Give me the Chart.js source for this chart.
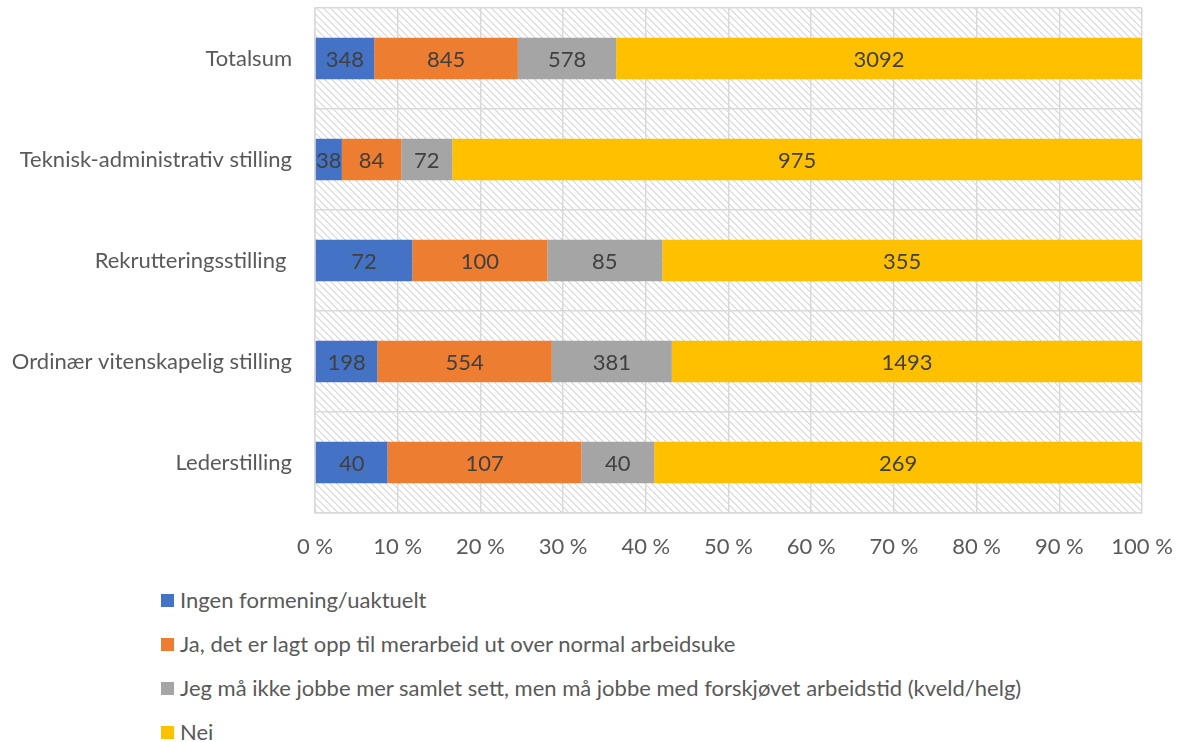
<!DOCTYPE html>
<html>
<head>
<meta charset="utf-8">
<script src="https://cdn.jsdelivr.net/npm/chart.js@4"></script>
<style>
  html, body { margin: 0; padding: 0; background: #fff; }
  #wrap { position: relative; width: 1178px; height: 742px; font-family: Lato, sans-serif; }
  #chartBox { position: absolute; left: 0; top: 0; width: 1178px; height: 580px; }
  #legend { position: absolute; left: 160px; top: 587px; color: #595959; font-size: 22px; line-height: 26px; }
  #legend .item { height: 44px; display: flex; align-items: flex-start; }
  #legend .box { flex: none; width: 13px; height: 13px; margin: 7px 6px 0 1px; }
</style>
</head>
<body>
<div id="wrap">
  <div id="chartBox"><canvas id="chart"></canvas></div>
  <div id="legend"></div>
</div>
<script>
    // Categories and answer counts per category
    const categories = [
        'Totalsum',
        'Teknisk-administrativ stilling',
        'Rekrutteringsstilling ',
        'Ordinær vitenskapelig stilling',
        'Lederstilling'
    ];
    const ingenFormening = [348, 38, 72, 198, 40];
    const jaMerarbeid = [845, 84, 100, 554, 107];
    const forskjovetArbeidstid = [578, 72, 85, 381, 40];
    const nei = [3092, 975, 355, 1493, 269];

    const seriesNames = [
        'Ingen formening/uaktuelt',
        'Ja, det er lagt opp til merarbeid ut over normal arbeidsuke',
        'Jeg må ikke jobbe mer samlet sett, men må jobbe med forskjøvet arbeidstid (kveld/helg)',
        'Nei'
    ];
    const xTicks = [0, 10, 20, 30, 40, 50, 60, 70, 80, 90, 100];

    const seriesCounts = [ingenFormening, jaMerarbeid, forskjovetArbeidstid, nei];
    const seriesColors = ['#4472C4', '#ED7D31', '#A5A5A5', '#FFC000'];

    const FONT = 'Lato, sans-serif';
    const FONT_SIZE = 22;

    // Row totals, used to turn counts into shares of 100 %
    const rowTotals = categories.map((c, i) => seriesCounts.reduce((s, arr) => s + arr[i], 0));

    // Light diagonal hatch behind the plot
    const TILE = 7;
    const tile = document.createElement('canvas');
    tile.width = TILE;
    tile.height = TILE;
    const tctx = tile.getContext('2d');
    for (let i = 0; i < TILE; i++) {
        tctx.fillStyle = '#d6d6d6';
        tctx.fillRect(i, i, 1, 1);
        tctx.fillStyle = '#ececec';
        tctx.fillRect((i + 1) % TILE, i, 1, 1);
    }

    const hatchBackground = {
        id: 'hatchBackground',
        beforeDraw(chart) {
            const { ctx, chartArea } = chart;
            ctx.save();
            ctx.fillStyle = ctx.createPattern(tile, 'repeat');
            ctx.fillRect(chartArea.left, chartArea.top, chartArea.right - chartArea.left, chartArea.bottom - chartArea.top);
            ctx.restore();
        }
    };

    // Count labels in the middle of each segment
    const countLabels = {
        id: 'countLabels',
        afterDatasetsDraw(chart) {
            const ctx = chart.ctx;
            ctx.save();
            ctx.font = FONT_SIZE + 'px ' + FONT;
            ctx.fillStyle = '#404040';
            ctx.textAlign = 'center';
            ctx.textBaseline = 'middle';
            chart.data.datasets.forEach((ds, di) => {
                chart.getDatasetMeta(di).data.forEach((bar, i) => {
                    const cx = (bar.x + bar.base) / 2;
                    ctx.fillText(String(seriesCounts[di][i]), cx, bar.y + 1);
                });
            });
            ctx.restore();
        }
    };

    const datasets = seriesNames.map((name, di) => ({
        label: name,
        data: seriesCounts[di].map((v, i) => v / rowTotals[i] * 100),
        backgroundColor: seriesColors[di],
        borderWidth: 0,
        barPercentage: 1,
        categoryPercentage: 0.41
    }));

    new Chart(document.getElementById('chart'), {
        type: 'bar',
        data: { labels: categories, datasets: datasets },
        options: {
            indexAxis: 'y',
            responsive: true,
            maintainAspectRatio: false,
            animation: false,
            layout: { padding: { top: 8, right: 36, left: 0, bottom: 0 } },
            plugins: {
                legend: { display: false },
                tooltip: { enabled: false }
            },
            scales: {
                x: {
                    stacked: true,
                    min: 0,
                    max: 100,
                    afterBuildTicks(scale) {
                        scale.ticks = xTicks.map(v => ({ value: v }));
                    },
                    afterFit(scale) {
                        scale.height = 67;
                        scale.paddingLeft = 0;
                        scale.paddingRight = 0;
                    },
                    grid: { color: '#d9d9d9', lineWidth: 1.5, drawTicks: false },
                    border: { color: '#d9d9d9', width: 1.5 },
                    ticks: {
                        padding: 21,
                        color: '#595959',
                        font: { family: FONT, size: FONT_SIZE },
                        callback: v => v + ' %'
                    }
                },
                y: {
                    stacked: true,
                    afterFit(scale) {
                        scale.width = 315;
                        scale.paddingTop = 0;
                        scale.paddingBottom = 0;
                    },
                    grid: { color: '#d9d9d9', lineWidth: 1.5, drawTicks: false },
                    border: { color: '#d9d9d9', width: 1.5 },
                    ticks: {
                        padding: 23,
                        color: '#595959',
                        font: { family: FONT, size: FONT_SIZE }
                    }
                }
            }
        },
        plugins: [hatchBackground, countLabels]
    });

    // Vertical legend below the chart
    const legendEl = document.getElementById('legend');
    seriesNames.forEach((name, di) => {
        const item = document.createElement('div');
        item.className = 'item';
        const box = document.createElement('span');
        box.className = 'box';
        box.style.background = seriesColors[di];
        const text = document.createElement('span');
        text.textContent = name;
        item.appendChild(box);
        item.appendChild(text);
        legendEl.appendChild(item);
    });
</script>
</body>
</html>
